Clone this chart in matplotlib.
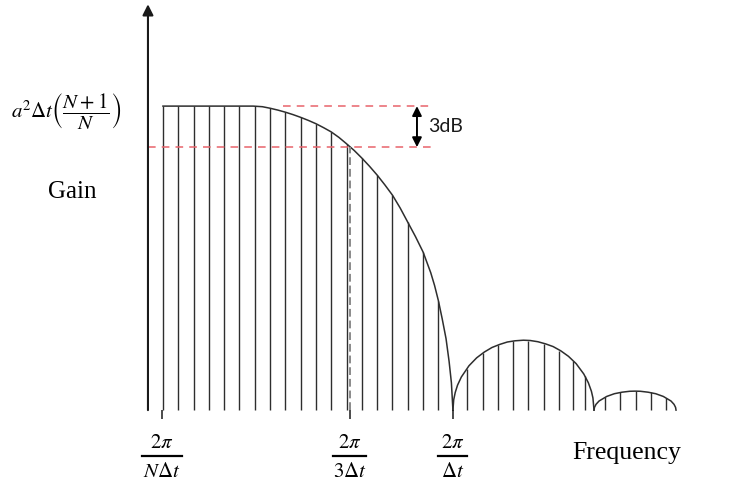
import matplotlib
matplotlib.use("Agg")
import matplotlib.pyplot as plt

plt.rcParams['mathtext.fontset'] = 'stix'

# sampled frequency bins and the gain at each sample
main_bins = list(range(0, 19))
main_gain = [1.0, 1.0, 1.0, 1.0, 1.0, 1.0, 1.0, 0.993, 0.980, 0.963, 0.942,
             0.915, 0.876, 0.829, 0.773, 0.707, 0.618, 0.520, 0.36]
lobe2_bins = [19.85, 20.9, 21.9, 22.9, 23.85, 24.9, 25.9, 26.8, 27.6]
lobe2_gain = [0.136, 0.187, 0.214, 0.227, 0.229, 0.219, 0.195, 0.160, 0.112]
lobe3_bins = [28.9, 29.9, 30.9, 31.9, 32.9]
lobe3_gain = [0.043, 0.058, 0.0625, 0.058, 0.041]

# envelope of the response
main_env_x = [0, 5.9, 6.5, 7, 7.5, 8, 8.5, 9, 9.5, 10, 10.5, 11, 11.5, 12,
              12.5, 13, 13.5, 14, 14.5, 15, 15.5, 16, 16.5, 17, 17.5, 17.75,
              18, 18.25, 18.5, 18.7, 18.85, 18.95]
main_env_y = [1.0, 1.0, 0.998, 0.993, 0.987, 0.980, 0.972, 0.963, 0.953,
              0.942, 0.929, 0.915, 0.897, 0.876, 0.854, 0.829, 0.802, 0.773,
              0.741, 0.707, 0.665, 0.618, 0.571, 0.520, 0.452, 0.41, 0.36,
              0.30, 0.235, 0.16, 0.09, 0.0]
lobe2_env_x = [18.95, 19.0, 19.1, 19.25, 19.5, 20.0, 20.5, 21.0, 21.5, 22.0,
               22.5, 23.0, 23.56, 24.0, 24.5, 25.0, 25.5, 26.0, 26.5, 27.0,
               27.5, 27.8, 28.0, 28.1, 28.17]
lobe2_env_y = [0.0, 0.034, 0.058, 0.082, 0.109, 0.146, 0.172, 0.191, 0.206,
               0.216, 0.224, 0.228, 0.230, 0.229, 0.225, 0.218, 0.209, 0.195,
               0.177, 0.153, 0.119, 0.090, 0.062, 0.040, 0.0]
lobe3_env_x = [28.17, 28.2, 28.3, 28.5, 29.0, 29.5, 30.0, 30.5, 30.85, 31.2,
               31.7, 32.2, 32.7, 33.2, 33.4, 33.5, 33.53]
lobe3_env_y = [0.0, 0.009, 0.019, 0.030, 0.045, 0.054, 0.059, 0.062, 0.0625,
               0.062, 0.059, 0.054, 0.045, 0.030, 0.019, 0.009, 0.0]

# levels and markers
peak_gain = 1.0
half_power_gain = 0.865
cutoff_bin = 12.2
tick_bins = [-0.07, 12.2, 18.95]
tick_nums = [r'$2\pi$', r'$2\pi$', r'$2\pi$']
tick_dens = [r'$N\Delta t$', r'$3\Delta t$', r'$\Delta t$']
bar_half = [1.3, 1.1, 0.95]

axis_x = -0.98
stem_col = '#2e2e2e'
red = '#e8636b'

fig = plt.figure(figsize=(7.38, 4.91), dpi=100)
ax = fig.add_axes([0, 0, 1, 1])
ax.set_xlim(-10.65, 37.58)
ax.set_ylim(-0.266, 1.349)
ax.axis('off')

# stems
ax.vlines(main_bins, 0, main_gain, color=stem_col, lw=1.0)
ax.vlines(lobe2_bins, 0, lobe2_gain, color=stem_col, lw=1.0)
ax.vlines(lobe3_bins, 0, lobe3_gain, color=stem_col, lw=1.0)

# envelopes
for ex, ey in [(main_env_x, main_env_y), (lobe2_env_x, lobe2_env_y),
               (lobe3_env_x, lobe3_env_y)]:
    ax.plot(ex, ey, color=stem_col, lw=1.1, solid_joinstyle='round')

# axes with arrows
arrow = dict(arrowstyle='-|>', lw=1.5, color='#1a1a1a', mutation_scale=16,
             shrinkA=0, shrinkB=0)
ax.annotate('', xy=(axis_x, 1.335), xytext=(axis_x, 0), arrowprops=arrow)
ax.annotate('', xy=(37.7, 0), xytext=(axis_x, 0), arrowprops=arrow)

# ticks under the frequency axis
ax.vlines(tick_bins, -0.03, 0, color='#1a1a1a', lw=1.1)

# 3 dB lines
ax.plot([7.84, 17.6], [peak_gain, peak_gain], color=red, lw=1.1,
        linestyle=(0, (5, 4)))
ax.plot([axis_x, 17.6], [half_power_gain, half_power_gain], color=red,
        lw=1.1, linestyle=(0, (5, 4)))
ax.plot([cutoff_bin, cutoff_bin], [0, half_power_gain], color='#8a8a8a',
        lw=1.4, linestyle=(0, (4, 2)))
ax.annotate('', xy=(16.6, peak_gain), xytext=(16.6, half_power_gain),
            arrowprops=dict(arrowstyle='<|-|>', lw=1.4, color='black',
                            mutation_scale=14, shrinkA=0, shrinkB=0))
ax.text(17.3, 0.932, '3dB', family='Lato', fontsize=14, va='center',
        ha='left', color='#1a1a1a')

# labels
ax.text(-5.95, 0.717, 'Gain', family='Liberation Serif', fontsize=18,
        ha='center', va='center')
ax.text(30.3, -0.14, 'Frequency', family='Liberation Serif', fontsize=18.5,
        ha='center', va='center')
ax.text(-6.3, 0.983, r'$a^2\Delta t\left(\dfrac{N+1}{N}\right)$', fontsize=15,
        ha='center', va='center')

for xb, num, den, hw in zip(tick_bins, tick_nums, tick_dens, bar_half):
    ax.text(xb, -0.105, num, fontsize=15, ha='center', va='center')
    ax.plot([xb - hw, xb + hw], [-0.152, -0.152], color='black', lw=1.6)
    ax.text(xb, -0.2, den, fontsize=15, ha='center', va='center')

fig.savefig('out.png', dpi=100)
